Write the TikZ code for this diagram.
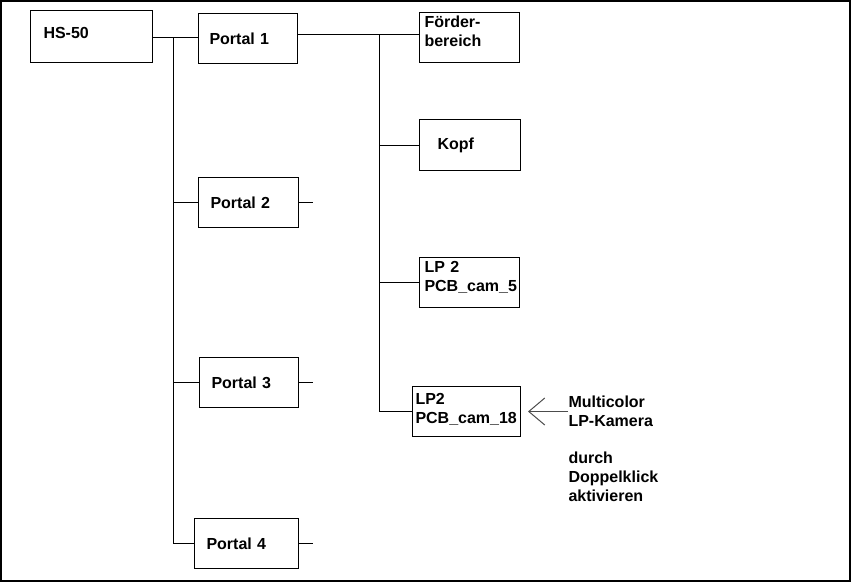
\documentclass[tikz,border=0pt]{standalone}
\usepackage{fontspec}
\setmainfont{Liberation Sans}
\usetikzlibrary{arrows.meta}
\newcommand{\boxfont}{\fontsize{16}{19}\selectfont\bfseries}

\begin{document}
\begin{tikzpicture}[x=1pt,y=-1pt,line width=1pt,
    box/.style={draw,anchor=north west,align=left,minimum height=50pt,inner ysep=0pt,font=\boxfont}]
    \useasboundingbox (0,0) rectangle (851,582);
    \draw[line width=2pt] (1,1) rectangle (850,581);
    % left column
    \node[box,text width=96pt,inner xsep=13pt,minimum height=52pt,text depth=8pt] (hs) at (30,10) {HS-50};
    \node[box,text width=77pt,inner xsep=11pt] (p1) at (198,13) {Portal 1};
    \node[box,text width=76pt,inner xsep=12pt] (p2) at (198,177) {Portal 2};
    \node[box,text width=75pt,inner xsep=12pt] (p3) at (199,357) {Portal 3};
    \node[box,text width=80pt,inner xsep=12pt] (p4) at (194,518) {Portal 4};
    % right column
    \node[box,text width=90pt,inner xsep=5pt,text depth=32pt] (fb) at (419,12) {Förder-\\bereich};
    \node[box,text width=65pt,inner xsep=18pt,minimum height=51pt] (kopf) at (419,119) {Kopf};
    \node[box,text width=90pt,inner xsep=5pt,text depth=32pt] (lp5) at (419,257) {LP 2\\PCB\_cam\_5};
    \node[box,text width=102pt,inner xsep=3pt,text depth=26pt] (lp18) at (412,386) {LP2\\PCB\_cam\_18};
    \node[anchor=north west,inner sep=0pt,align=left,font=\boxfont] (note) at (568,395)
        {Multicolor\\LP-Kamera\\[18pt]durch\\Doppelklick\\aktivieren};
    % connectors
    \coordinate (t1) at (173,37);
    \coordinate (t2) at (379,34);
    \draw (hs.east |- t1) -- (p1.west |- t1);
    \draw (t1) -- (t1 |- p4.west);
    \foreach \n in {p2,p3,p4}{
        \draw (t1 |- \n.west) -- (\n.west) (\n.east) -- ++(14,0);
    }
    \draw (p1.east |- t2) -- (fb.west |- t2);
    \draw (t2) -- (t2 |- lp18.west);
    \foreach \n in {kopf,lp5,lp18}{
        \draw (t2 |- \n.west) -- (\n.west);
    }
    \draw[black!70,-{Straight Barb[length=16pt,width=27pt]}] (note.west |- lp18.east) -- ([xshift=7pt]lp18.east);
\end{tikzpicture}
\end{document}
